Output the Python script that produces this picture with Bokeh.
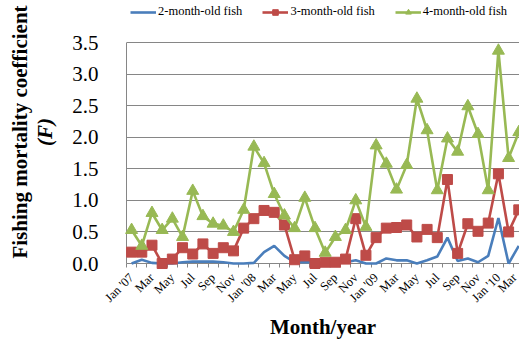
import math
from bokeh.plotting import figure
from bokeh.models import (Range1d, FixedTicker, Legend, LegendItem, LinearAxis)
from bokeh.embed import file_html
from bokeh.resources import INLINE

# ---- data ----
months = ["Jan '07", "Feb", "Mar", "Apr", "May", "Jun", "Jul", "Aug", "Sep", "Oct", "Nov", "Dec",
          "Jan '08", "Feb", "Mar", "Apr", "May", "Jun", "Jul", "Aug", "Sep", "Oct", "Nov", "Dec",
          "Jan '09", "Feb", "Mar", "Apr", "May", "Jun", "Jul", "Aug", "Sep", "Oct", "Nov", "Dec",
          "Jan '10", "Feb", "Mar"]
fish_2m = [0.00, 0.06, 0.01, 0.00, 0.00, 0.02, 0.03, 0.03, 0.03, 0.02, 0.00, 0.00,
           0.01, 0.18, 0.28, 0.12, 0.02, 0.02, 0.02, 0.00, 0.00, 0.02, 0.05, 0.00,
           0.00, 0.08, 0.05, 0.05, 0.00, 0.05, 0.11, 0.41, 0.04, 0.08, 0.02, 0.12,
           0.72, 0.00, 0.28]
fish_3m = [0.18, 0.18, 0.29, 0.00, 0.07, 0.25, 0.15, 0.31, 0.16, 0.25, 0.20, 0.56,
           0.71, 0.84, 0.81, 0.61, 0.06, 0.12, 0.00, 0.02, 0.02, 0.07, 0.71, 0.13,
           0.41, 0.56, 0.57, 0.61, 0.42, 0.54, 0.41, 1.33, 0.16, 0.63, 0.51, 0.64,
           1.42, 0.50, 0.85]
fish_4m = [0.53, 0.28, 0.80, 0.53, 0.71, 0.42, 1.15, 0.75, 0.63, 0.60, 0.50, 0.85,
           1.85, 1.59, 1.10, 0.76, 0.56, 1.04, 0.56, 0.17, 0.42, 0.53, 1.00, 0.58,
           1.87, 1.58, 1.17, 1.56, 2.61, 2.11, 1.16, 1.98, 1.77, 2.49, 2.05, 1.16,
           3.37, 1.67, 2.08]
series_names = ["2-month-old fish", "3-month-old fish", "4-month-old fish"]
y_ticks = [0.0, 0.5, 1.0, 1.5, 2.0, 2.5, 3.0, 3.5]
x_title = "Month/year"
y_title = "Fishing mortality coefficient"
y_title2 = "(F)"

x = list(range(len(months)))

BLUE = "#4A7EBB"
RED = "#BE4B48"
GREEN = "#98B954"
AXIS = "#868686"
SERIF = "Liberation Serif"

xr = Range1d(-0.5, 38.07)
# the frame reaches the top of the page so that the legend (drawn inside it) is visible
yr = Range1d(0, 3.5 * 263 / 221)

p = figure(width=519, height=349, output_backend="svg", toolbar_location=None,
           x_range=xr, y_range=yr,
           min_border_left=126, min_border_right=0, min_border_top=0, min_border_bottom=86)
p.outline_line_color = None
p.background_fill_color = "white"

# x axis
p.xaxis.ticker = FixedTicker(ticks=x[::2], minor_ticks=[i - 0.5 for i in range(len(months) + 1)])
p.xaxis.major_label_overrides = {i: months[i] for i in x[::2]}
p.xaxis.major_label_orientation = math.pi / 4
p.xaxis.major_label_text_font = SERIF
p.xaxis.major_label_text_font_size = "12.5px"
p.xaxis.major_label_text_color = "black"
p.xaxis.major_label_standoff = 6
p.xaxis.major_tick_line_color = None
p.xaxis.minor_tick_line_color = AXIS
p.xaxis.minor_tick_in = 0
p.xaxis.minor_tick_out = 4
p.xaxis.axis_line_color = AXIS
p.xaxis.axis_label = x_title
p.xaxis.axis_label_text_font = SERIF
p.xaxis.axis_label_text_font_style = "bold"
p.xaxis.axis_label_text_font_size = "21px"
p.xaxis.axis_label_text_color = "black"
p.xaxis.axis_label_standoff = 2

# y axis (its line is drawn only up to the top tick, below)
p.yaxis.ticker = FixedTicker(ticks=y_ticks)
p.yaxis.major_label_overrides = {v: f"{v:.1f}" for v in y_ticks}
p.yaxis.major_label_text_font = SERIF
p.yaxis.major_label_text_font_size = "21px"
p.yaxis.major_label_text_color = "black"
p.yaxis.major_label_standoff = 22
p.yaxis.major_tick_line_color = None
p.yaxis.minor_tick_line_color = None
p.yaxis.axis_line_color = None
p.yaxis.axis_label = y_title2
p.yaxis.axis_label_text_font = SERIF
p.yaxis.axis_label_text_font_style = "bold italic"
p.yaxis.axis_label_text_font_size = "21px"
p.yaxis.axis_label_text_color = "black"
p.yaxis.axis_label_standoff = 12

outer = LinearAxis(ticker=FixedTicker(ticks=[]), axis_line_color=None,
                   major_tick_line_color=None, minor_tick_line_color=None,
                   axis_label=y_title, axis_label_text_font=SERIF,
                   axis_label_text_font_style="bold", axis_label_text_font_size="21px",
                   axis_label_text_color="black", axis_label_standoff=-1)
p.add_layout(outer, "left")

p.xgrid.grid_line_color = None
p.ygrid.ticker = FixedTicker(ticks=y_ticks)
p.ygrid.grid_line_color = AXIS
p.ygrid.grid_line_width = 1

# vertical axis line from 0 to the top tick
p.segment(x0=[xr.start], y0=[y_ticks[0]], x1=[xr.start], y1=[y_ticks[-1]],
          line_color=AXIS, line_width=1, level="overlay")

# series
l1 = p.line(x, fish_2m, line_color=BLUE, line_width=2.6, level="overlay")
l2 = p.line(x, fish_3m, line_color=RED, line_width=2.6, level="overlay")
s2 = p.scatter(x, fish_3m, marker="square", size=10, fill_color=RED, line_color=RED, level="overlay")
l3 = p.line(x, fish_4m, line_color=GREEN, line_width=2.6, level="overlay")
s3 = p.scatter(x, fish_4m, marker="triangle", size=12, fill_color=GREEN, line_color=GREEN, level="overlay")

legend = Legend(items=[LegendItem(label=series_names[0], renderers=[l1]),
                       LegendItem(label=series_names[1], renderers=[l2, s2]),
                       LegendItem(label=series_names[2], renderers=[l3, s3])],
                orientation="horizontal", location=(4, 244),
                glyph_width=26, glyph_height=14, label_standoff=2, spacing=20,
                padding=0, margin=0, border_line_color=None, background_fill_alpha=0,
                label_text_font=SERIF, label_text_font_size="12.5px", label_text_color="black",
                label_height=14)
p.add_layout(legend, "center")

open("out.html", "w").write(file_html(p, INLINE))
